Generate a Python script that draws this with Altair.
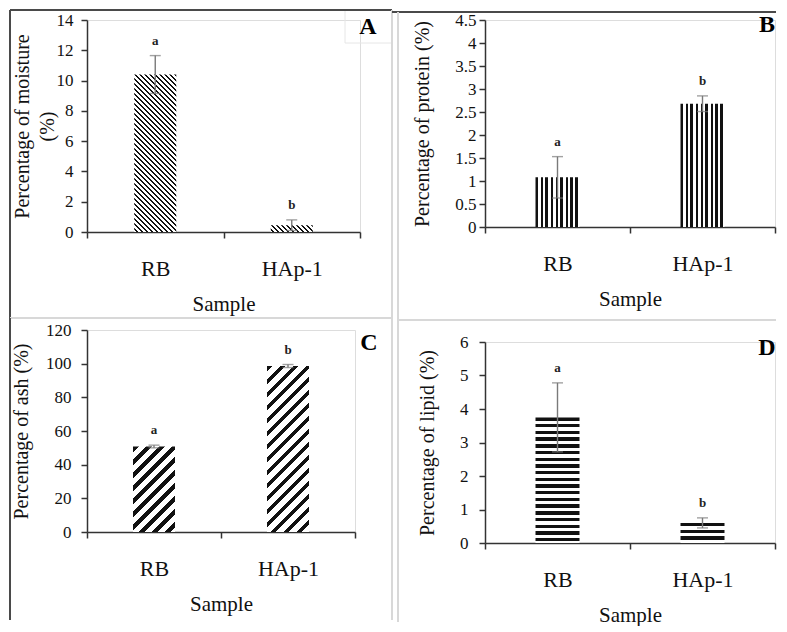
import altair as alt
import pandas as pd

# ---------------- data ----------------
samples = ["RB", "HAp-1"]
letters = ["a", "b"]
moisture = [10.4, 0.45]
moisture_err = [1.25, 0.35]
protein = [1.08, 2.68]
protein_err = [0.45, 0.17]
ash = [50.8, 98.6]
ash_err = [0.8, 0.9]
lipid = [3.75, 0.6]
lipid_err = [1.03, 0.15]

FONT = "Liberation Serif"
DARK = "#111111"
AX = "#333333"
DK = "#4a4a4a"
LT = "#d8d8d8"
FAINT = "#e6e6e6"

one = pd.DataFrame({"d": [0]})


def stops(length, period, frac):
    dt = period / length
    out = []
    k = 0
    while k * dt < 1:
        s = k * dt
        e = min(s + frac * dt, 1.0)
        out.append({"offset": round(s, 5), "color": DARK})
        out.append({"offset": round(e, 5), "color": DARK})
        if e < 1:
            out.append({"offset": round(e, 5), "color": "white"})
            out.append({"offset": round(min(s + dt, 1.0), 5), "color": "white"})
        k += 1
    return out


def gradient(kind, W, H, period, frac):
    if kind == "vertical":
        return {"gradient": "linear", "x1": 0, "y1": 0, "x2": 1, "y2": 0,
                "stops": stops(W, period, frac)}
    if kind == "horizontal":
        return {"gradient": "linear", "x1": 0, "y1": 0, "x2": 0, "y2": 1,
                "stops": stops(H, period, frac)}
    s = W * (W + H) / (W * W + H * H)
    if kind == "slash":
        return {"gradient": "linear", "x1": 0, "y1": 0, "x2": s, "y2": s * H / W,
                "stops": stops(W + H, period, frac)}
    return {"gradient": "linear", "x1": 1, "y1": 0, "x2": 1 - s, "y2": s * H / W,
            "stops": stops(W + H, period, frac)}


def rule(x1, x2, y1, y2, color, w):
    return alt.Chart(one).mark_rule(color=color, strokeWidth=w).encode(
        x=alt.value(x1), x2=alt.value(x2), y=alt.value(y1), y2=alt.value(y2))


def panel(vals, errs, title, ymax, step, kind, period, frac, bw, plot, lines,
          tag, tag_pos, title_cx, ylabpad):
    px, py, pw, ph = plot
    df = pd.DataFrame({
        "Sample": samples,
        "value": vals,
        "lower": [v - e for v, e in zip(vals, errs)],
        "upper": [v + e for v, e in zip(vals, errs)],
        "letter": letters,
    })
    xax = alt.Axis(title="Sample", labelAngle=0, tickBand="extent", tickSize=6,
                   labelPadding=20, titlePadding=14, labelFontSize=22,
                   titleFontSize=21, labelColor=DARK, titleColor=DARK,
                   labelFont=FONT, titleFont=FONT, domainColor=AX, tickColor=AX,
                   domainWidth=1.5, tickWidth=1.5, grid=False, titleFontWeight="normal")
    n = int(round(ymax / step))
    yvals = [round(i * step, 3) for i in range(n + 1)]
    yax = alt.Axis(title=title, values=yvals, format="~r", tickSize=6,
                   labelPadding=ylabpad, labelFontSize=17, titleFontSize=20,
                   titleLineHeight=25, labelColor=DARK, titleColor=DARK,
                   labelFont=FONT, titleFont=FONT, domainColor=AX, tickColor=AX,
                   domainWidth=1.5, tickWidth=1.5, grid=False,
                   titleFontWeight="normal", titleX=title_cx - px, titleY=ph / 2,
                   titleBaseline="middle", titleAlign="center", titleAngle=270)
    X = alt.X("Sample:N", sort=samples, axis=xax,
              scale=alt.Scale(paddingInner=0, paddingOuter=0))
    ysc = alt.Scale(domain=[0, ymax], nice=False)
    layers = []
    for (x1, x2, y1, y2, color, w) in lines:
        layers.append(rule(x1 - px, x2 - px, y1 - py, y2 - py, color, w))
    for cat, v in zip(samples, vals):
        H = v / ymax * ph
        g = gradient(kind, bw, H, period, frac)
        layers.append(
            alt.Chart(df).transform_filter(alt.datum.Sample == cat)
            .mark_bar(size=bw, fill=g)
            .encode(x=X, y=alt.Y("value:Q", axis=yax, scale=ysc)))
    layers.append(alt.Chart(df).mark_rule(color="#7a7a7a", strokeWidth=1.4).encode(
        x=X, y=alt.Y("lower:Q", axis=yax, scale=ysc), y2="upper:Q"))
    for f in ["upper", "lower"]:
        layers.append(alt.Chart(df).mark_tick(color="#7a7a7a", size=11, thickness=1.4,
                                              orient="horizontal").encode(
            x=X, y=alt.Y(f + ":Q", axis=yax, scale=ysc)))
    layers.append(alt.Chart(df).mark_text(dy=-15, fontSize=13, fontWeight="bold",
                                          font=FONT, color="#222222").encode(
        x=X, y=alt.Y("upper:Q", axis=yax, scale=ysc), text="letter:N"))
    layers.append(alt.Chart(one).mark_text(text=tag, fontSize=24, fontWeight="bold",
                                           font=FONT, color="#000000", baseline="middle",
                                           align="center").encode(
        x=alt.value(tag_pos[0] - px), y=alt.value(tag_pos[1] - py)))
    return alt.layer(*layers).properties(width=pw, height=ph)


pA = panel(moisture, moisture_err, ["Percentage of moisture", "(%)"], 14, 2,
           "backslash", 5, 0.5, 42, plot=(87, 20, 273, 212),
           lines=[(10, 392, 10, 10, DK, 2), (10, 10, 10, 318, DK, 2),
                  (392, 392, 10, 318, LT, 2), (10, 392, 318, 318, LT, 2),
                  (345, 345, 11, 43, FAINT, 1), (345, 391, 43, 43, FAINT, 1)],
           tag="A", tag_pos=(368, 27), title_cx=22, ylabpad=8)
pB = panel(protein, protein_err, "Percentage of protein (%)", 4.5, 0.5,
           "vertical", 5, 0.5, 44, plot=(485, 18, 290, 207),
           lines=[(392, 776, 10, 10, DK, 2), (398, 398, 10, 318, LT, 2),
                  (398, 776, 318, 318, LT, 2)],
           tag="B", tag_pos=(767, 23), title_cx=422, ylabpad=3)
pC = panel(ash, ash_err, "Percentage of ash (%)", 120, 20,
           "slash", 13, 0.45, 42, plot=(87, 330, 268, 202),
           lines=[(10, 10, 318, 620, DK, 2), (392, 392, 318, 620, LT, 2)],
           tag="C", tag_pos=(369, 343), title_cx=21, ylabpad=10)
pD = panel(lipid, lipid_err, "Percentage of lipid (%)", 6, 1,
           "horizontal", 6.7, 0.5, 44, plot=(485, 340, 290, 201),
           lines=[(398, 398, 318, 620, LT, 2)],
           tag="D", tag_pos=(767, 346), title_cx=427, ylabpad=11)

chart = alt.hconcat(
    alt.vconcat(pA, pC, spacing=-4),
    alt.vconcat(pB, pD, spacing=-4),
    spacing=-4,
).properties(padding=0, background="white").configure_view(stroke=None).configure(
    font=FONT).configure_axis(labelFont=FONT, titleFont=FONT)

chart.save("out.html", embed_options={"renderer": "svg", "actions": False})
